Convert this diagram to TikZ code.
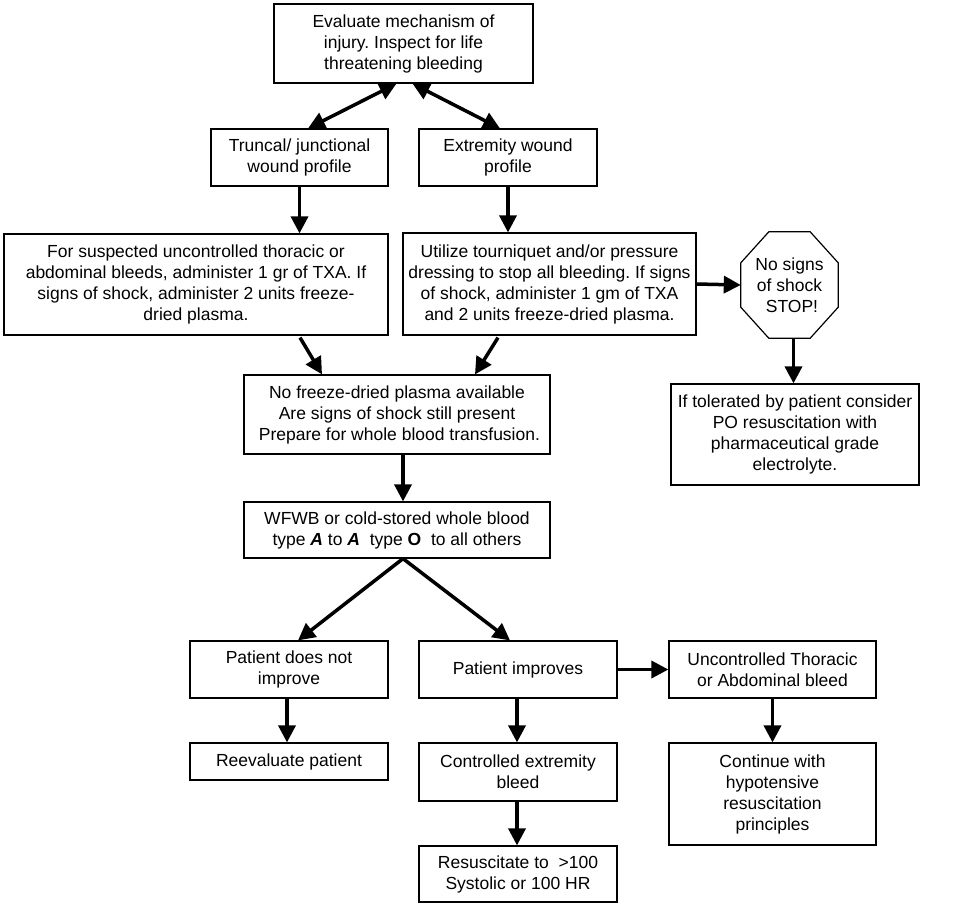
\documentclass[tikz,border=0pt]{standalone}
\usepackage{fontspec}
\setmainfont{Liberation Sans}
\usetikzlibrary{arrows.meta}
\begin{document}
\frenchspacing
\begin{tikzpicture}[x=1pt,y=-1pt,
  box/.style={draw, line width=1.2pt, align=center, inner sep=0pt,
    font=\fontsize{17.5}{21}\selectfont},
  arr/.style={line width=3.5pt, -{Triangle[length=17pt,width=17pt]}},
  darr/.style={line width=3.5pt, {Triangle[length=17pt,width=17pt]}-{Triangle[length=17pt,width=17pt]}}]
\useasboundingbox[fill=white] (0,0) rectangle (975,906);
\node[box, minimum width=259pt, minimum height=79pt] (top) at (403.5,43.5)
  {Evaluate mechanism of\\injury. Inspect for life\\threatening bleeding};
\node[box, minimum width=177pt, minimum height=57pt] (trunc) at (299.5,157.5)
  {Truncal/ junctional\\wound profile};
\node[box, minimum width=178pt, minimum height=57pt] (extr) at (508,157.5)
  {Extremity wound\\profile};
\node[box, minimum width=384pt, minimum height=101pt] (left) at (196,284.5)
  {For suspected uncontrolled thoracic or\\abdominal bleeds, administer 1 gr of TXA. If\\signs of shock, administer 2 units freeze-\\dried plasma.};
\node[box, minimum width=293pt, minimum height=102pt] (util) at (549.5,284)
  {Utilize tourniquet and/or pressure\\dressing to stop all bleeding. If signs\\of shock, administer 1 gm of TXA\\and 2 units freeze-dried plasma.};
\node[align=center, inner sep=0pt, minimum width=97pt, minimum height=106pt,
  font=\fontsize{17.5}{21}\selectfont] (oct) at (789.5,285)
  {No signs\\of shock\\\ STOP!};
\draw[line width=1.2pt] ([xshift=28pt]oct.north west) -- ([xshift=-28pt]oct.north east)
  -- ([yshift=-31pt]oct.north east) -- ([yshift=31pt]oct.south east)
  -- ([xshift=-28pt]oct.south east) -- ([xshift=28pt]oct.south west)
  -- ([yshift=31pt]oct.south west) -- ([yshift=-31pt]oct.north west) -- cycle;
\node[box, minimum width=248pt, minimum height=101pt] (tol) at (795,434.5)
  {If tolerated by patient consider\\PO resuscitation with\\pharmaceutical grade\\electrolyte.};
\node[box, minimum width=306pt, minimum height=79pt] (nofreeze) at (397,414.5)
  {No freeze-dried plasma available\\Are signs of shock still present\\\ Prepare for whole blood transfusion.};
\node[box, minimum width=306pt, minimum height=56pt] (wfwb) at (397,530)
  {WFWB or cold-stored whole blood\\type \textbf{\textit{A}} to \textbf{\textit{A}}~ type \textbf{O}~ to all others};
\node[box, minimum width=198pt, minimum height=57pt] (pdni) at (289,669.5)
  {Patient does not\\improve};
\node[box, minimum width=198pt, minimum height=57pt] (pimp) at (518,669.5)
  {Patient improves};
\node[box, minimum width=207pt, minimum height=57pt] (unc) at (772.5,669.5)
  {Uncontrolled Thoracic\\or Abdominal bleed};
\node[box, minimum width=198pt, minimum height=37pt] (reev) at (289,761.5)
  {Reevaluate patient};
\node[box, minimum width=198pt, minimum height=58pt] (ctrl) at (518,772)
  {Controlled extremity\\bleed};
\node[box, minimum width=207pt, minimum height=102pt] (cont) at (772.5,794)
  {Continue with\\hypotensive\\resuscitation\\principles};
\node[box, minimum width=198pt, minimum height=56pt] (resus) at (518,874)
  {Resuscitate to~ >100\\Systolic or 100 HR};
% connectors
\draw[darr] ([xshift=-7pt]top.south) -- ([xshift=8.5pt]trunc.north);
\draw[darr] ([xshift=9pt]top.south) -- ([xshift=-8pt]extr.north);
\draw[arr] (trunc.south) -- (trunc.south |- left.north);
\draw[arr] (extr.south) -- (extr.south |- util.north);
\draw[arr] ([xshift=104pt,yshift=-2pt]left.south) -- ([xshift=-75pt]nofreeze.north);
\draw[arr] ([xshift=-51.5pt,yshift=-2pt]util.south) -- ([xshift=78pt]nofreeze.north);
\draw[arr] (util.east) -- (oct.west);
\draw[arr] ([xshift=4pt]oct.south) -- ([xshift=4pt]oct.south |- tol.north);
\draw[arr] ([xshift=6pt]nofreeze.south) -- ([xshift=6pt]wfwb.north);
\draw[arr] ([xshift=6pt]wfwb.south) -- ([xshift=9pt]pdni.north);
\draw[arr] ([xshift=6pt]wfwb.south) -- ([xshift=-8pt]pimp.north);
\draw[arr] ([xshift=-2pt]pdni.south) -- ([xshift=-2pt]reev.north);
\draw[arr] ([xshift=-1pt]pimp.south) -- ([xshift=-1pt]ctrl.north);
\draw[arr] (pimp.east) -- (unc.west);
\draw[arr] (unc.south) -- (cont.north);
\draw[arr] ([xshift=-1pt]ctrl.south) -- ([xshift=-1pt]resus.north);
\end{tikzpicture}
\end{document}
